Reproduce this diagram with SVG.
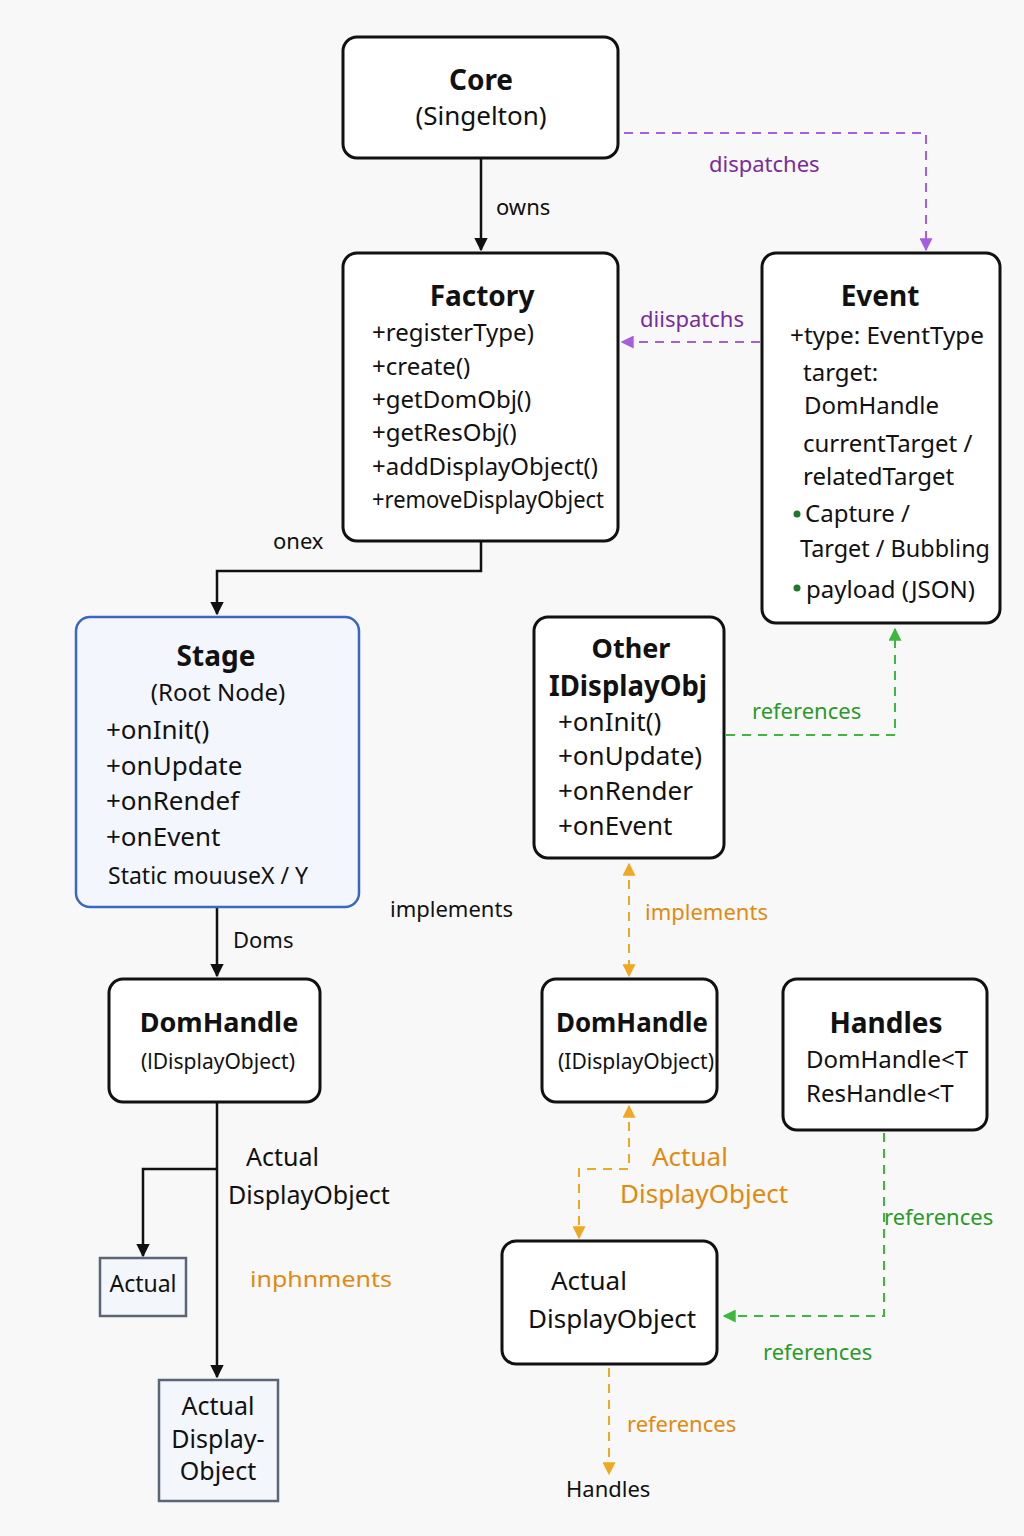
<svg xmlns="http://www.w3.org/2000/svg" width="1024" height="1536" viewBox="0 0 1024 1536">
<defs>
<style>
text{font-family:"Noto Sans","DejaVu Sans",sans-serif;fill:#111}
.box{fill:#fff;stroke:#111;stroke-width:3}
.sq{fill:#f3f6fb;stroke:#5a6676;stroke-width:2.5}
.t{font-weight:bold;font-size:28px;text-anchor:middle}
.m{font-size:24px}
.c{text-anchor:middle}
.solid{fill:none;stroke:#111;stroke-width:2.5}
.pur{fill:none;stroke:#a55ee0;stroke-width:2;stroke-dasharray:9 7}
.grn{fill:none;stroke:#3cb83c;stroke-width:2;stroke-dasharray:9 7}
.org{fill:none;stroke:#f0a820;stroke-width:2;stroke-dasharray:9 7}
.lp{fill:#7b2a9e;font-size:22px}
.lg{fill:#2a9a2a;font-size:22px}
.lo{fill:#e08a10;font-size:22px}
.lb{font-size:22px}
</style>
<marker id="ab" viewBox="0 0 10 10" refX="9" refY="5" markerWidth="5.5" markerHeight="5.5" orient="auto-start-reverse"><path d="M0,0L10,5L0,10z" fill="#111"/></marker>
<marker id="ap" viewBox="0 0 10 10" refX="9" refY="5" markerWidth="6.5" markerHeight="6.5" orient="auto-start-reverse"><path d="M0,0L10,5L0,10z" fill="#a55ee0"/></marker>
<marker id="ag" viewBox="0 0 10 10" refX="9" refY="5" markerWidth="6.5" markerHeight="6.5" orient="auto-start-reverse"><path d="M0,0L10,5L0,10z" fill="#3cb83c"/></marker>
<marker id="ao" viewBox="0 0 10 10" refX="9" refY="5" markerWidth="6.5" markerHeight="6.5" orient="auto-start-reverse"><path d="M0,0L10,5L0,10z" fill="#f0a820"/></marker>
</defs>
<rect width="1024" height="1536" fill="#f8f8f8"/>

<g id="connectors">
<path class="solid" d="M481,158V250" marker-end="url(#ab)"/>
<path class="pur" d="M624,133H926V250" marker-end="url(#ap)"/>
<path class="pur" d="M760,342H622" marker-end="url(#ap)"/>
<path class="solid" d="M481,541V571H217V614" marker-end="url(#ab)"/>
<path class="grn" d="M726,735H895V629" marker-end="url(#ag)"/>
<path class="org" d="M629,864V976" marker-start="url(#ao)" marker-end="url(#ao)"/>
<path class="solid" d="M217,907V976" marker-end="url(#ab)"/>
<path class="solid" d="M217,1102V1377" marker-end="url(#ab)"/>
<path class="solid" d="M217,1169H143V1256" marker-end="url(#ab)"/>
<path class="org" d="M629,1106V1169H579V1238" marker-start="url(#ao)" marker-end="url(#ao)"/>
<path class="grn" d="M884,1133V1316H724" marker-end="url(#ag)"/>
<path class="org" d="M609,1368V1474" marker-end="url(#ao)"/>
<text x="496" y="215" class="lb">owns</text>
<text x="709" y="172" class="lp">dispatches</text>
<text x="640" y="327" class="lp">diispatchs</text>
<text x="273" y="549" class="lb">onex</text>
<text x="752" y="719" class="lg">references</text>
<text x="390" y="917" class="lb">implements</text>
<text x="645" y="920" class="lo">implements</text>
<text x="233" y="948" class="lb">Doms</text>
<text x="246" y="1166" class="m" style="font-size:25px">Actual</text>
<text x="228" y="1204" class="m" style="font-size:25px">DisplayObject</text>
<text x="250" y="1287" class="lo" textLength="142" lengthAdjust="spacingAndGlyphs">inphnments</text>
<text x="652" y="1166" class="lo" style="font-size:26px">Actual</text>
<text x="620" y="1203" class="lo" style="font-size:26px">DisplayObject</text>
<text x="884" y="1225" class="lg">references</text>
<text x="763" y="1360" class="lg">references</text>
<text x="627" y="1432" class="lo">references</text>
<text x="566" y="1497" class="lb">Handles</text>
</g>

<g id="core">
<rect class="box" x="343" y="37" width="275" height="121" rx="14"/>
<text x="481" y="90" class="t">Core</text>
<text x="481" y="125" class="m c" style="font-size:26px">(Singelton)</text>
</g>

<g id="factory">
<rect class="box" x="343" y="253" width="275" height="288" rx="14"/>
<text x="482" y="306" class="t">Factory</text>
<g class="m">
<text x="372" y="341">+registerType)</text>
<text x="372" y="375">+create()</text>
<text x="372" y="408">+getDomObj()</text>
<text x="372" y="441">+getResObj()</text>
<text x="372" y="475" textLength="226" lengthAdjust="spacingAndGlyphs">+addDisplayObject()</text>
<text x="372" y="508" textLength="232" lengthAdjust="spacingAndGlyphs">+removeDisplayObject</text>
</g>
</g>

<g id="event">
<rect class="box" x="762" y="253" width="238" height="370" rx="14"/>
<text x="880" y="306" class="t">Event</text>
<g class="m">
<text x="790" y="344" textLength="194" lengthAdjust="spacingAndGlyphs">+type: EventType</text>
<text x="803" y="381">target:</text>
<text x="804" y="414">DomHandle</text>
<text x="803" y="452">currentTarget /</text>
<text x="803" y="485">relatedTarget</text>
<circle cx="797" cy="514" r="3.5" fill="#1e7a2a"/>
<text x="805" y="522">Capture /</text>
<text x="800" y="557" textLength="190" lengthAdjust="spacingAndGlyphs">Target / Bubbling</text>
<circle cx="797" cy="588" r="3.5" fill="#1e7a2a"/>
<text x="806" y="598">payload (JSON)</text>
</g>
</g>

<g id="stage">
<rect x="76" y="617" width="283" height="290" rx="14" fill="#f3f7fd" stroke="#3a66c4" stroke-width="2.5"/>
<text x="216" y="666" class="t">Stage</text>
<text x="218" y="701" class="m c">(Root Node)</text>
<g class="m" style="font-size:26px">
<text x="106" y="739">+onInit()</text>
<text x="106" y="775">+onUpdate</text>
<text x="106" y="810">+onRendef</text>
<text x="106" y="846">+onEvent</text>
</g>
<text x="108" y="884" class="lb" style="font-size:23px">Static mouuseX / Y</text>
</g>

<g id="other-idisplayobj">
<rect class="box" x="534" y="617" width="190" height="241" rx="14"/>
<text x="631" y="658" class="t" style="font-size:27px">Other</text>
<text x="628" y="696" class="t" style="font-size:28px" textLength="158" lengthAdjust="spacingAndGlyphs">IDisplayObj</text>
<g class="m" style="font-size:26px">
<text x="558" y="731">+onInit()</text>
<text x="558" y="765">+onUpdate)</text>
<text x="558" y="800">+onRender</text>
<text x="558" y="835">+onEvent</text>
</g>
</g>

<g id="domhandle-left">
<rect class="box" x="109" y="979" width="211" height="123" rx="14"/>
<text x="219" y="1032" class="t" style="font-size:27px">DomHandle</text>
<text x="218" y="1069" class="c" style="font-size:21px">(lDisplayObject)</text>
</g>

<g id="domhandle-right">
<rect class="box" x="542" y="979" width="175" height="123" rx="14"/>
<text x="632" y="1032" class="t" style="font-size:26px" textLength="152" lengthAdjust="spacingAndGlyphs">DomHandle</text>
<text x="636" y="1069" class="c" style="font-size:21px" textLength="156" lengthAdjust="spacingAndGlyphs">(IDisplayObject)</text>
</g>

<g id="handles">
<rect class="box" x="783" y="979" width="204" height="151" rx="14"/>
<text x="886" y="1033" class="t">Handles</text>
<text x="806" y="1068" class="m">DomHandle&lt;T</text>
<text x="806" y="1102" class="m">ResHandle&lt;T</text>
</g>

<g id="actual-displayobject-right">
<rect class="box" x="502" y="1241" width="215" height="123" rx="14"/>
<text x="551" y="1290" class="m" style="font-size:26px">Actual</text>
<text x="528" y="1328" class="m" style="font-size:26px">DisplayObject</text>
</g>

<g id="actual-small">
<rect class="sq" x="100" y="1258" width="86" height="58"/>
<text x="143" y="1292" class="c" style="font-size:23px">Actual</text>
</g>

<g id="actual-display-object-left">
<rect class="sq" x="159" y="1380" width="119" height="121"/>
<g class="c" style="font-size:25px">
<text x="218" y="1415">Actual</text>
<text x="218" y="1448">Display-</text>
<text x="218" y="1480">Object</text>
</g>
</g>
</svg>
